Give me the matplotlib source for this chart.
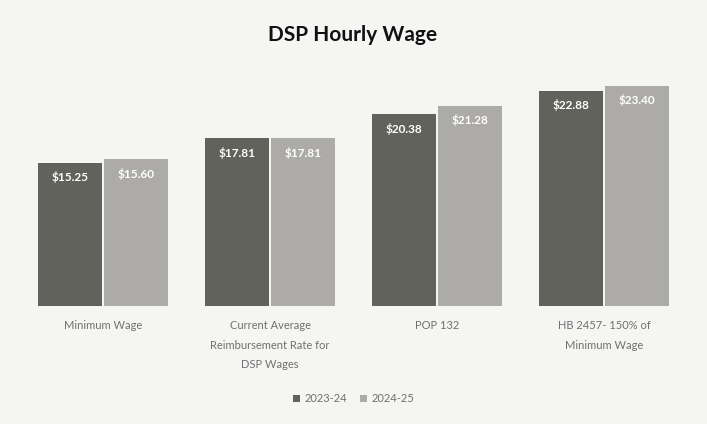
import matplotlib
matplotlib.use("Agg")
import matplotlib.pyplot as plt
import numpy as np

plt.rcParams['font.family'] = ['Lato', 'DejaVu Sans']

categories = ["Minimum Wage",
              "Current Average\nReimbursement Rate for\nDSP Wages",
              "POP 132",
              "HB 2457- 150% of\nMinimum Wage"]
series_names = ["2023-24", "2024-25"]
values_2023 = [15.25, 17.81, 20.38, 22.88]
values_2024 = [15.60, 17.81, 21.28, 23.40]
colors = ["#62625c", "#acaba7"]

fig = plt.figure(figsize=(7.07, 4.24), dpi=100)
fig.patch.set_facecolor("#f5f5f3")
ax = fig.add_axes([0.0276, 0.278, 0.9448, 0.555])
ax.set_facecolor("#f5f5f3")

x = np.arange(len(categories))
w = 0.385
gap = 0.006
b1 = ax.bar(x - w/2 - gap, values_2023, w, color=colors[0], label=series_names[0])
b2 = ax.bar(x + w/2 + gap, values_2024, w, color=colors[1], label=series_names[1])

for bars, vals in ((b1, values_2023), (b2, values_2024)):
    for r, v in zip(bars, vals):
        ax.annotate(f"${v:.2f}", (r.get_x() + r.get_width()/2, v),
                    xytext=(0, -10.5), textcoords="offset points",
                    ha="center", va="center", color="white",
                    fontsize=8.5, fontweight="bold")

ax.set_xlim(-0.5, len(categories) - 0.5)
ax.set_ylim(0, 25)
ax.set_yticks([])
ax.set_xticks(x)
ax.set_xticklabels(categories, fontsize=8, color="#707070", linespacing=1.95)
ax.tick_params(axis="x", length=0, pad=10)
for s in ax.spines.values():
    s.set_visible(False)

fig.text(0.498, 0.918, "DSP Hourly Wage", ha="center", va="center",
         fontsize=15, fontweight="bold", color="#111111")

fig.legend(handles=[b1, b2], labels=series_names, loc="center",
           bbox_to_anchor=(0.5, 0.06), ncol=2, frameon=False,
           fontsize=8, labelcolor="#707070", handlelength=0.6,
           handleheight=0.6, handletextpad=0.4, columnspacing=1.2)

fig.savefig("out.png", dpi=100, facecolor=fig.get_facecolor())
